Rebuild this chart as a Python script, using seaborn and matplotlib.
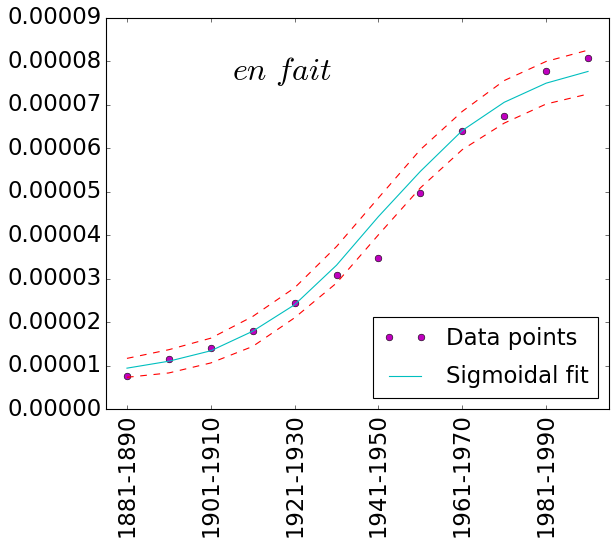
import matplotlib
matplotlib.use("Agg")
import matplotlib.pyplot as plt
import seaborn as sns
import numpy as np
import pandas as pd
from matplotlib.ticker import FormatStrFormatter, MultipleLocator

periods = ["1881-1890", "1891-1900", "1901-1910", "1911-1920", "1921-1930",
           "1931-1940", "1941-1950", "1951-1960", "1961-1970", "1971-1980",
           "1981-1990", "1991-2000"]
data_points = [7.6e-6, 1.16e-5, 1.40e-5, 1.80e-5, 2.44e-5, 3.09e-5,
               3.48e-5, 4.97e-5, 6.40e-5, 6.75e-5, 7.78e-5, 8.08e-5]
sigmoid_fit = [9.4e-6, 1.10e-5, 1.34e-5, 1.79e-5, 2.40e-5, 3.31e-5,
               4.43e-5, 5.47e-5, 6.41e-5, 7.06e-5, 7.50e-5, 7.77e-5]
upper_bound = [1.165e-5, 1.365e-5, 1.63e-5, 2.13e-5, 2.79e-5, 3.74e-5,
               4.86e-5, 5.97e-5, 6.85e-5, 7.56e-5, 8.00e-5, 8.26e-5]
lower_bound = [7.3e-6, 8.3e-6, 1.06e-5, 1.44e-5, 2.10e-5, 2.90e-5,
               4.01e-5, 5.09e-5, 5.97e-5, 6.58e-5, 7.02e-5, 7.25e-5]
annotation = r"$en\ fait$"

MAGENTA = (0.75, 0.0, 0.75)
CYAN = (0.0, 0.75, 0.75)
RED = (1.0, 0.0, 0.0)

plt.style.use("classic")
plt.rcParams["font.family"] = ["DejaVu Sans"]
plt.rcParams["mathtext.fontset"] = "cm"

pos = np.arange(len(periods))
df = pd.DataFrame({"pos": pos, "data": data_points, "fit": sigmoid_fit,
                   "upper": upper_bound, "lower": lower_bound})

fig = plt.figure(figsize=(615 / 80, 545 / 80), dpi=80, facecolor="white")
ax = fig.add_axes([106 / 615, 1 - 409 / 545, (609 - 106) / 615, (409 - 18) / 545])

sns.lineplot(data=df, x="pos", y="data", ax=ax, color=MAGENTA, marker="o",
             linestyle="", markersize=6, markeredgecolor="k",
             markeredgewidth=0.5, label="Data points", sort=False)
sns.lineplot(data=df, x="pos", y="fit", ax=ax, color=CYAN, linewidth=1.0,
             label="Sigmoidal fit", sort=False)
sns.lineplot(data=df, x="pos", y="upper", ax=ax, color=RED, linestyle="--",
             linewidth=1.0, sort=False)
sns.lineplot(data=df, x="pos", y="lower", ax=ax, color=RED, linestyle="--",
             linewidth=1.0, sort=False)

ax.set_xlim(-0.5, len(periods) - 0.5)
ax.set_ylim(0, 0.00009)
ax.yaxis.set_major_locator(MultipleLocator(0.00001))
ax.yaxis.set_major_formatter(FormatStrFormatter("%.5f"))
ax.set_xticks(pos[::2])
ax.set_xticklabels(periods[::2], rotation=90)
ax.tick_params(labelsize=20.5, colors="black")
ax.set_xlabel("")
ax.set_ylabel("")

ax.text(2.5, 0.0000758, annotation, fontsize=29, color="black")

leg = ax.legend(loc="lower right", numpoints=2, fontsize=20.5, labelspacing=0.7,
                fancybox=False, framealpha=1.0, edgecolor="black")
for t in leg.get_texts():
    t.set_color("black")

fig.savefig("out.png", dpi=80, facecolor="white")
